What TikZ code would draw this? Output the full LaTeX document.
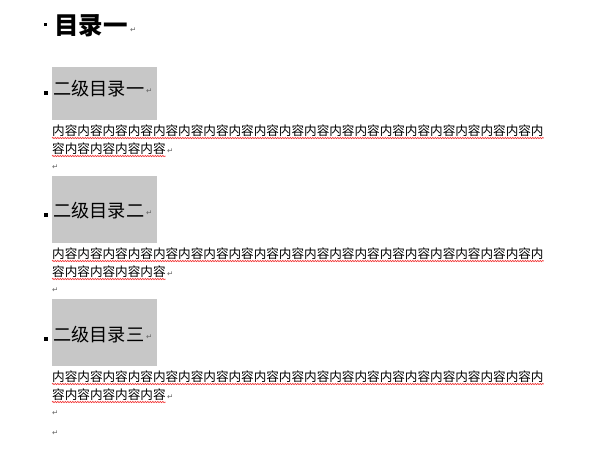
\documentclass[tikz,border=0pt]{standalone}
\usepackage{fontspec}
\newfontfamily\cjk{Noto Sans CJK SC}
\newfontfamily\symfont{DejaVu Sans}
\usetikzlibrary{positioning,decorations.pathmorphing}
\definecolor{HeadClr}{rgb}{0.78,0.78,0.78}
\definecolor{WaveClr}{rgb}{0.95,0.2,0.2}
\definecolor{MarkClr}{rgb}{0.4,0.4,0.4}
\newcommand{\neirongA}{内容内容内容内容内容内容内容内容内容内容内容内容内容内容内容内容内容内容内容内}
\newcommand{\neirongB}{容内容内容内容内容}

\begin{document}
\begin{tikzpicture}[x=1pt,y=-1pt,
  headbox/.style={fill=HeadClr,inner sep=0,anchor=north west,minimum width=105pt},
  bullet/.style={fill=black,inner sep=0,minimum size=3pt},
  parmark/.style={text=MarkClr,inner sep=0,font=\symfont\fontsize{7.5}{7.5}\selectfont},
  bodytext/.style={inner sep=0,anchor=west,font=\cjk\fontsize{12.6}{12.6}\selectfont},
  wavy/.style={draw=WaveClr,line width=0.6pt,decorate,
    decoration={snake,amplitude=0.7pt,segment length=2.5pt}}]
\useasboundingbox (0,0) rectangle (600,448);

% title
\node[inner sep=0,anchor=west,font=\cjk\bfseries\fontsize{24.5}{24.5}\selectfont] (title) at (54,26) {目录一};
\node[bullet] (dot0) at (45.5,24.5) {};
\node[parmark,anchor=west] (ret0) at ([xshift=2pt,yshift=-4pt]title.east) {↵};

% sections
\foreach \n/\lbl/\top/\bot/\ty in {1/一/67/120/89,2/二/176/243/211,3/三/299/366/335}{
  \node[headbox,minimum height={(\bot-\top)*1pt}] (box\n) at (52,\top) {};
  \node[inner sep=0,anchor=west,font=\cjk\fontsize{18.2}{18.2}\selectfont] (head\n) at (53,\ty) {二级目录\lbl};
  \node[bullet,minimum size=3.5pt] (dot\n) at (46,\ty+4) {};
  \node[parmark,anchor=west] (rh\n) at ([xshift=1.5pt,yshift=-2pt]head\n.east) {↵};
  \node[bodytext] (la\n) at (52,\bot+11) {\neirongA};
  \node[bodytext] (lb\n) at (52,\bot+29) {\neirongB};
  \node[parmark,anchor=west] (rb\n) at ([xshift=1pt,yshift=-2pt]lb\n.east) {↵};
  \node[parmark,anchor=west] (re\n) at (52,\bot+47) {↵};
  \draw[wavy] ([yshift=-1pt]la\n.south west) -- ([yshift=-1pt]la\n.south east);
  \draw[wavy] ([yshift=-1pt]lb\n.south west) -- ([yshift=-1pt]lb\n.south east);
}
\node[parmark,anchor=west] (rend) at (52,433) {↵};

\end{tikzpicture}
\end{document}
